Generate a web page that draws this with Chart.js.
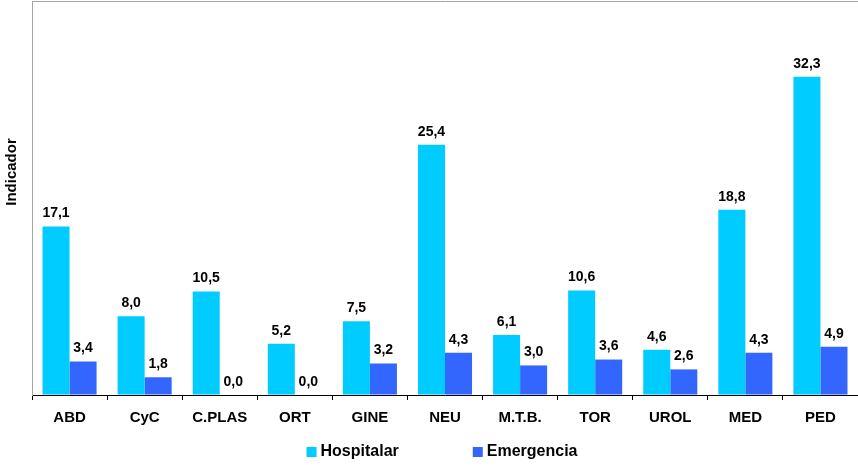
<!DOCTYPE html>
<html>
<head>
<meta charset="utf-8">
<script src="https://cdn.jsdelivr.net/npm/chart.js@4"></script>
<style>
    html, body { margin: 0; padding: 0; background: #fff; }
    #wrap { width: 858px; height: 466px; }
</style>
</head>
<body>
<div id="wrap"><canvas id="indChart"></canvas></div>
<script>
// Datos del gráfico
const servicios = ["ABD", "CyC", "C.PLAS", "ORT", "GINE", "NEU", "M.T.B.", "TOR", "UROL", "MED", "PED"];
const hospitalar = [17.1, 8.0, 10.5, 5.2, 7.5, 25.4, 6.1, 10.6, 4.6, 18.8, 32.3];
const emergencia = [3.4, 1.8, 0.0, 0.0, 3.2, 4.3, 3.0, 3.6, 2.6, 4.3, 4.9];
const seriesNombres = ["Hospitalar", "Emergencia"];
const tituloY = "Indicador";
const yMax = 40;

const fuente = "'Liberation Sans', Arial, sans-serif";

// Etiquetas de valor encima de cada barra
const etiquetasPlugin = {
    id: "etiquetas",
    afterDatasetsDraw(chart) {
        const ctx = chart.ctx;
        ctx.save();
        ctx.font = "bold 14px " + fuente;
        ctx.fillStyle = "#000";
        ctx.textAlign = "center";
        ctx.textBaseline = "middle";
        chart.data.datasets.forEach((ds, i) => {
            chart.getDatasetMeta(i).data.forEach((bar, j) => {
                const txt = ds.data[j].toFixed(1).replace(".", ",");
                ctx.fillText(txt, bar.x, bar.y - 13);
            });
        });
        ctx.restore();
    }
};

// Título del eje Y (un poco por encima del centro, como en Excel)
const tituloPlugin = {
    id: "tituloY",
    afterDraw(chart) {
        const ctx = chart.ctx;
        const area = chart.chartArea;
        ctx.save();
        ctx.font = "bold 15px " + fuente;
        ctx.fillStyle = "#000";
        ctx.textAlign = "center";
        ctx.textBaseline = "middle";
        ctx.translate(area.left - 20.5, area.top + (area.bottom - area.top) * 0.434);
        ctx.rotate(-Math.PI / 2);
        ctx.fillText(tituloY, 0, 0);
        ctx.restore();
    }
};

// Leyenda dibujada debajo del eje
const leyendaPlugin = {
    id: "leyenda",
    afterDraw(chart) {
        const ctx = chart.ctx;
        const area = chart.chartArea;
        ctx.save();
        ctx.font = "bold 16px " + fuente;
        ctx.textBaseline = "middle";
        ctx.textAlign = "left";
        const box = 10, gapTxt = 4, gapItem = 74;
        const items = chart.data.datasets.map(ds => ({
            label: ds.label,
            color: ds.backgroundColor,
            w: box + gapTxt + ctx.measureText(ds.label).width
        }));
        const total = items.reduce((s, it) => s + it.w, 0) + gapItem * (items.length - 1);
        let x = (area.left + area.right) / 2 - total / 2 - 3;
        const y = area.bottom + 57;
        items.forEach(it => {
            ctx.fillStyle = it.color;
            ctx.fillRect(x, y - box / 2, box, box);
            ctx.fillStyle = "#000";
            ctx.fillText(it.label, x + box + gapTxt, y);
            x += it.w + gapItem;
        });
        ctx.restore();
    }
};

new Chart(document.getElementById("indChart"), {
    type: "bar",
    data: {
        labels: servicios,
        datasets: [
            { label: seriesNombres[0], data: hospitalar, backgroundColor: "#00CCFF" },
            { label: seriesNombres[1], data: emergencia, backgroundColor: "#3366FF" }
        ]
    },
    options: {
        responsive: true,
        maintainAspectRatio: false,
        animation: false,
        datasets: {
            bar: { categoryPercentage: 0.72, barPercentage: 1.0, borderWidth: 0 }
        },
        layout: { padding: { top: 1, left: 32, right: 0, bottom: 30 } },
        plugins: {
            legend: { display: false },
            tooltip: { enabled: false }
        },
        scales: {
            x: {
                grid: {
                    display: true,
                    drawOnChartArea: false,
                    drawTicks: true,
                    tickLength: 5,
                    color: "#000"
                },
                border: { display: true, color: "#000", width: 1 },
                ticks: {
                    color: "#000",
                    font: { family: fuente, size: 15, weight: "bold" },
                    padding: 9,
                    maxRotation: 0,
                    autoSkip: false
                }
            },
            y: {
                min: 0,
                max: yMax,
                ticks: { display: false, stepSize: yMax },
                grid: {
                    drawTicks: false,
                    color: c => (c.tick && c.tick.value === yMax) ? "#A6A6A6" : "rgba(0,0,0,0)"
                },
                border: { display: true, color: "#A6A6A6", width: 1 }
            }
        }
    },
    plugins: [etiquetasPlugin, tituloPlugin, leyendaPlugin]
});
</script>
</body>
</html>
